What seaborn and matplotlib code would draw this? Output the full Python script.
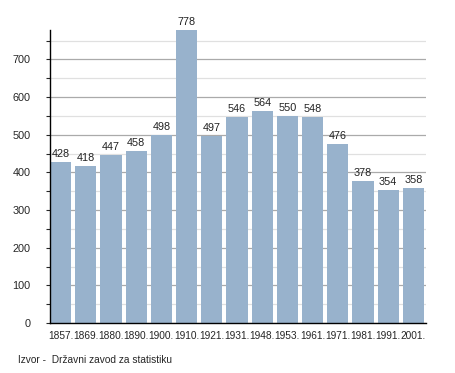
import numpy as np
import pandas as pd
import seaborn as sns
import matplotlib
matplotlib.use("Agg")
import matplotlib.pyplot as plt
from matplotlib.ticker import MultipleLocator

years = ["1857.", "1869.", "1880.", "1890.", "1900.", "1910.", "1921.", "1931.",
         "1948.", "1953.", "1961.", "1971.", "1981.", "1991.", "2001."]
population = [428, 418, 447, 458, 498, 778, 497, 546, 564, 550, 548, 476, 378, 354, 358]

df = pd.DataFrame({"year": years, "population": population})

sns.set_style("white")
plt.rcParams["font.family"] = ["Liberation Sans", "DejaVu Sans"]

fig = plt.figure(figsize=(4.55, 3.73), dpi=100)
ax = fig.add_axes([50 / 455, 50 / 373, 376 / 455, 293 / 373])

sns.barplot(data=df, x="year", y="population", color="#98b2cc",
            saturation=1, width=0.84, ax=ax, linewidth=0)
for p in ax.patches:
    p.set_zorder(3)

ax.set_ylim(0, 778)
ax.set_xlim(-0.42, 14.5)
ax.yaxis.set_major_locator(MultipleLocator(100))
ax.yaxis.set_minor_locator(MultipleLocator(50))
ax.set_axisbelow(True)
ax.grid(axis="y", which="major", color="#aaaaaa", linewidth=0.9)
ax.grid(axis="y", which="minor", color="#e0e0e0", linewidth=0.9)
ax.grid(axis="x", visible=False)

for s in ["top", "right"]:
    ax.spines[s].set_visible(False)
ax.spines["left"].set_color("black")
ax.spines["bottom"].set_color("black")
ax.spines["left"].set_linewidth(1)
ax.spines["bottom"].set_linewidth(1)
ax.spines["left"].set_zorder(5)
ax.spines["bottom"].set_zorder(5)

ax.tick_params(axis="y", which="major", left=True, length=3, width=0.8, labelsize=7.8, pad=11)
ax.tick_params(axis="y", which="minor", left=True, length=3, width=0.8)
ax.tick_params(axis="x", bottom=False, labelsize=7.3, pad=2)
ax.set_xlabel("")
ax.set_ylabel("")

for i, v in enumerate(population):
    ax.text(i, v + 8, str(v), ha="center", va="bottom", fontsize=7.8, color="#222222")

fig.text(18 / 455, 1 - 360 / 373, "Izvor -  Državni zavod za statistiku",
         fontsize=7.3, va="center", ha="left")

fig.savefig("out.png", dpi=100)
